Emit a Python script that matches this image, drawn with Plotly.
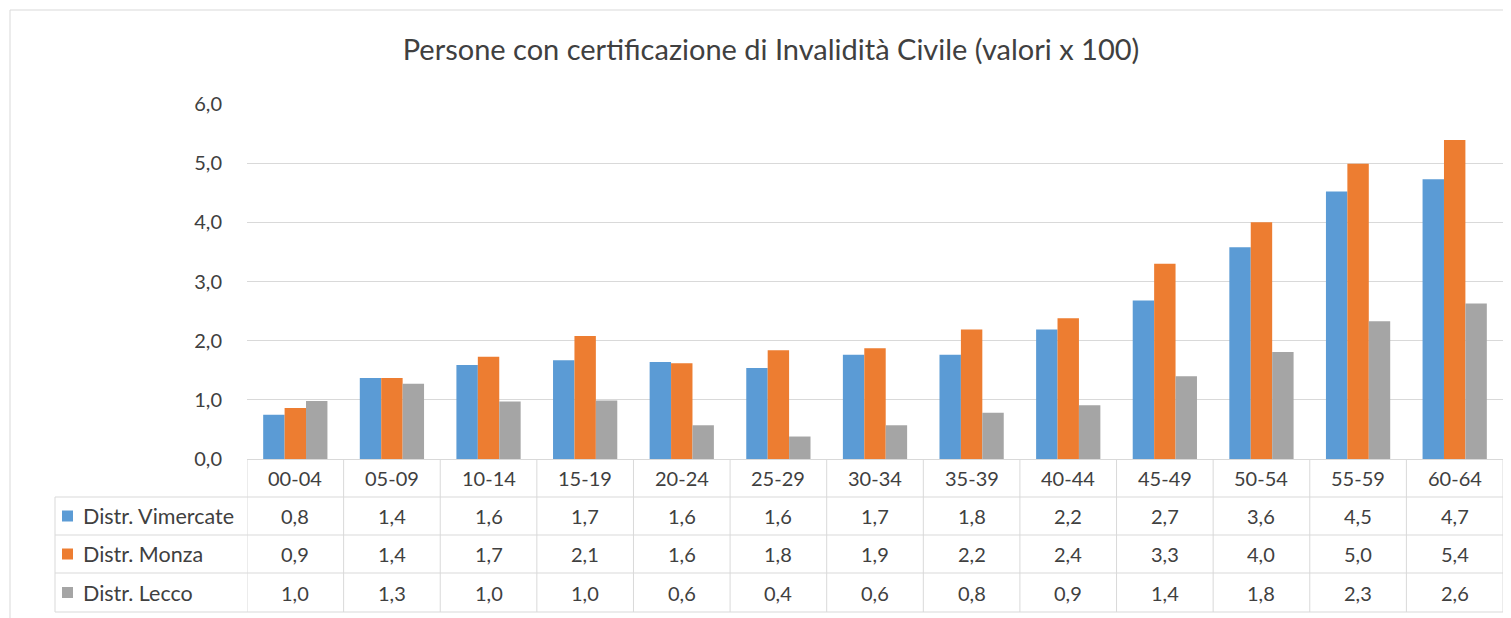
import plotly.graph_objects as go

categories = ["00-04", "05-09", "10-14", "15-19", "20-24", "25-29", "30-34",
              "35-39", "40-44", "45-49", "50-54", "55-59", "60-64"]
series_names = ["Distr. Vimercate", "Distr. Monza", "Distr. Lecco"]
vimercate = [0.75, 1.37, 1.59, 1.67, 1.64, 1.54, 1.76, 1.76, 2.19, 2.68, 3.58, 4.52, 4.73]
monza = [0.86, 1.37, 1.73, 2.08, 1.62, 1.84, 1.87, 2.19, 2.38, 3.30, 4.00, 4.99, 5.39]
lecco = [0.98, 1.27, 0.97, 0.99, 0.57, 0.38, 0.57, 0.78, 0.91, 1.40, 1.81, 2.33, 2.63]
# values as printed in the chart's data table
vimercate_table = ["0,8", "1,4", "1,6", "1,7", "1,6", "1,6", "1,7", "1,8", "2,2", "2,7", "3,6", "4,5", "4,7"]
monza_table = ["0,9", "1,4", "1,7", "2,1", "1,6", "1,8", "1,9", "2,2", "2,4", "3,3", "4,0", "5,0", "5,4"]
lecco_table = ["1,0", "1,3", "1,0", "1,0", "0,6", "0,4", "0,6", "0,8", "0,9", "1,4", "1,8", "2,3", "2,6"]
colors = ["#5B9BD5", "#ED7D31", "#A5A5A5"]
title = "Persone con certificazione di Invalidità Civile (valori x 100)"

# page has an 8px body margin; work in screen pixels and shift
OFF = 8
SW, SH = 1511, 618
W, H = SW - OFF, SH - OFF
L, R, T, B = 247, 1503, 104, 459  # plot area in screen pixels
pw, ph = R - L, B - T

def px_x(p):
    return (p - L) / pw

def px_y(p):
    return (B - p) / ph

FONT = "Lato"
TXT = "#404040"
GRID = "#D9D9D9"
FS = 20

fig = go.Figure()
for name, vals, col in zip(series_names, [vimercate, monza, lecco], colors):
    fig.add_trace(go.Bar(x=categories, y=vals, name=name, marker_color=col,
                         marker_line_width=0))

shapes = []
annotations = []
row_tops = [497, 535, 573]
row_bottom = 612
for yy in row_tops + [row_bottom]:
    shapes.append(dict(type="line", xref="paper", yref="paper",
                       x0=px_x(55), x1=1, y0=px_y(yy), y1=px_y(yy),
                       line=dict(color=GRID, width=1)))
shapes.append(dict(type="line", xref="paper", yref="paper",
                   x0=px_x(55), x1=px_x(55), y0=px_y(497), y1=px_y(row_bottom),
                   line=dict(color=GRID, width=1)))
for k in range(len(categories) + 1):
    shapes.append(dict(type="line", xref="x", yref="paper",
                       x0=k - 0.5, x1=k - 0.5, y0=px_y(459), y1=px_y(row_bottom),
                       line=dict(color=GRID, width=1)))
# outer chart border (left and top)
shapes.append(dict(type="line", xref="paper", yref="paper",
                   x0=px_x(10), x1=px_x(10), y0=px_y(10), y1=px_y(SH + 5),
                   line=dict(color=GRID, width=1)))
shapes.append(dict(type="line", xref="paper", yref="paper",
                   x0=px_x(10), x1=px_x(SW + 5), y0=px_y(10), y1=px_y(10),
                   line=dict(color=GRID, width=1)))

for i, c in enumerate(categories):
    annotations.append(dict(x=i, y=px_y(478), xref="x", yref="paper", text=c,
                            showarrow=False, font=dict(family=FONT, size=FS, color=TXT),
                            xanchor="center", yanchor="middle"))
for r, (name, tab, col) in enumerate(zip(series_names,
                                        [vimercate_table, monza_table, lecco_table], colors)):
    yc = (row_tops[r] + (row_tops[r + 1] if r < 2 else row_bottom)) / 2
    shapes.append(dict(type="rect", xref="paper", yref="paper",
                       x0=px_x(62), x1=px_x(73), y0=px_y(yc - 5.5), y1=px_y(yc + 5.5),
                       fillcolor=col, line=dict(width=0)))
    annotations.append(dict(x=px_x(81), y=px_y(yc), xref="paper", yref="paper", text=name,
                            showarrow=False, font=dict(family=FONT, size=21.5, color=TXT),
                            xanchor="left", yanchor="middle"))
    for i, t in enumerate(tab):
        annotations.append(dict(x=i, y=px_y(yc), xref="x", yref="paper", text=t,
                                showarrow=False, font=dict(family=FONT, size=FS, color=TXT),
                                xanchor="center", yanchor="middle"))

fig.update_layout(
    width=W, height=H,
    margin=dict(l=L - OFF, r=SW - R, t=T - OFF, b=SH - B, pad=0),
    paper_bgcolor="white", plot_bgcolor="white",
    separators=",.",
    barmode="group", bargap=0.335, bargroupgap=0,
    showlegend=False,
    title=dict(text=title, x=(771 - OFF) / W, xref="container", xanchor="center",
               y=1 - (50 - OFF) / H, yref="container", yanchor="middle",
               font=dict(family=FONT, size=29, color=TXT)),
    xaxis=dict(type="category", showticklabels=False, ticks="", showgrid=False,
               zeroline=False, showline=True, linecolor=GRID, linewidth=1,
               range=[-0.5, len(categories) - 0.5]),
    yaxis=dict(range=[0, 6], dtick=1, tickformat=".1f", showgrid=True, gridcolor=GRID,
               gridwidth=1, zeroline=False, showline=False, ticks="",
               ticklabelstandoff=24,
               tickfont=dict(family=FONT, size=FS, color=TXT)),
    shapes=shapes, annotations=annotations,
)

fig.write_html("out.html")
